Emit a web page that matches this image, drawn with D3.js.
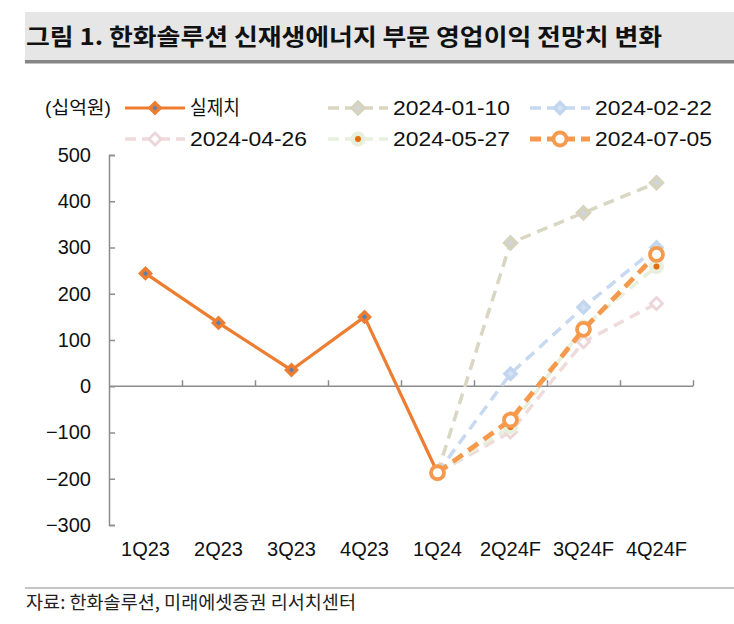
<!DOCTYPE html>
<html><head><meta charset="utf-8">
<script src="https://cdn.jsdelivr.net/npm/d3@7"></script>
<style>body{margin:0;background:#fff}</style>
</head><body><svg id="c" width="734" height="624"></svg>
<script>
const categories = ["1Q23","2Q23","3Q23","4Q23","1Q24","2Q24F","3Q24F","4Q24F"];
const actual  = [244, 137, 35, 150, -187, null, null, null];
const f0110   = [null, null, null, null, -187, 310, 375, 440];
const f0222   = [null, null, null, null, -187, 27, 171, 300];
const f0426   = [null, null, null, null, -187, -99, 96, 179];
const f0527   = [null, null, null, null, -187, -88, 128, 259];
const f0705   = [null, null, null, null, -187, -73, 123, 285];
const seriesNames = ["실제치","2024-01-10","2024-02-22","2024-04-26","2024-05-27","2024-07-05"];
const yTicks = [-300,-200,-100,0,100,200,300,400,500];
const titleText = "그림 1. 한화솔루션 신재생에너지 부문 영업이익 전망치 변화";
const unitText = "(십억원)";
const sourceText = "자료: 한화솔루션, 미래에셋증권 리서치센터";

const FONT = "'Liberation Sans','Noto Sans CJK KR',sans-serif";
const svg = d3.select("#c");

// title band
svg.append("rect").attr("x",25).attr("y",12).attr("width",709).attr("height",49).attr("fill","#e6e6e6");
svg.append("rect").attr("x",25).attr("y",60).attr("width",709).attr("height",3.5).attr("fill","#858585");
svg.append("text").attr("x",26).attr("y",45).attr("font-family","'Noto Sans CJK KR',sans-serif")
  .attr("font-weight","bold").attr("font-size",23).attr("fill","#111").attr("textLength",636)
  .attr("lengthAdjust","spacingAndGlyphs").text(titleText);

const x = d3.scaleBand().domain(categories).range([109,693]);
const xi = d3.scaleLinear().domain([0,categories.length]).range([109,693]);
const y = d3.scaleLinear().domain([-300,500]).range([525,155]);

// y axis
const ya = svg.append("g").attr("transform","translate(109,0)")
  .call(d3.axisLeft(y).tickValues(yTicks).tickSize(-6).tickPadding(18)
    .tickFormat(d => d < 0 ? "\u2212" + Math.abs(d) : String(d)));
ya.selectAll("path").attr("stroke","#8c8c8c").attr("stroke-width",1.5);
ya.selectAll("line").attr("stroke","#8c8c8c").attr("stroke-width",1.5);
ya.selectAll("text").attr("font-family",FONT).attr("font-size",20).attr("fill","#111");

// x axis at zero
const xa = svg.append("g").attr("transform",`translate(0,${y(0)})`)
  .call(d3.axisBottom(xi).tickValues(d3.range(1,categories.length+1)).tickSize(-6).tickFormat(""));
xa.select("path").attr("stroke","#8c8c8c").attr("stroke-width",1.5).attr("d",`M109,0H693`);
xa.selectAll("line").attr("stroke","#8c8c8c").attr("stroke-width",1.5);

// category labels at bottom
const xl = svg.append("g").attr("transform","translate(0,525)")
  .call(d3.axisBottom(x).tickSize(0).tickPadding(17));
xl.select("path").remove();
xl.selectAll("text").attr("font-family",FONT).attr("font-size",20).attr("fill","#111");

// markers
function diamond(g, cx, cy, r, fill, stroke, sw){
  g.append("path").attr("d",`M${cx},${cy-r}L${cx+r},${cy}L${cx},${cy+r}L${cx-r},${cy}Z`)
    .attr("fill",fill).attr("stroke",stroke).attr("stroke-width",sw).attr("stroke-linejoin","miter");
}
const styles = [
  {data: actual, color:"#ed7d31", w:3.2, dash:null,
   mark:(g,cx,cy)=>diamond(g,cx,cy,5,"#5b7fae","#ed7d31",3.5)},
  {data: f0110, color:"#d9d6c2", w:3.5, dash:"11,7",
   mark:(g,cx,cy)=>diamond(g,cx,cy,5.5,"#cbd6e8","#d6d3be",4)},
  {data: f0222, color:"#c6d9f1", w:3.5, dash:"11,7",
   mark:(g,cx,cy)=>diamond(g,cx,cy,5.5,"#d4e2f5","#c3d6ef",3.5)},
  {data: f0426, color:"#efdadc", w:3.5, dash:"11,7",
   mark:(g,cx,cy)=>diamond(g,cx,cy,6,"#ffffff","#ecd5d8",2.8)},
  {data: f0527, color:"#e7efdd", w:3.5, dash:"11,7",
   mark:(g,cx,cy)=>{g.append("circle").attr("cx",cx).attr("cy",cy).attr("r",7.5).attr("fill","#e7efdd");
     g.append("circle").attr("cx",cx).attr("cy",cy).attr("r",3).attr("fill","#e46c0a");}},
  {data: f0705, color:"#f59a4c", w:4.8, dash:"12,7",
   mark:(g,cx,cy)=>g.append("circle").attr("cx",cx).attr("cy",cy).attr("r",6.5).attr("fill","#fff")
     .attr("stroke","#f59a4c").attr("stroke-width",3.8)}
];

const line = d3.line().defined(d => d.v != null).x(d => x(d.c) + x.bandwidth()/2).y(d => y(d.v));
styles.forEach(s => {
  const pts = categories.map((c,i) => ({c, v: s.data[i]}));
  svg.append("path").datum(pts).attr("d",line).attr("fill","none")
    .attr("stroke",s.color).attr("stroke-width",s.w).attr("stroke-dasharray",s.dash)
    .attr("stroke-linejoin","round");
  const g = svg.append("g");
  pts.filter(d => d.v != null).forEach(d => s.mark(g, x(d.c)+x.bandwidth()/2, y(d.v)));
});

// legend
svg.append("text").attr("x",45).attr("y",108).attr("dy","0.35em").attr("font-family",FONT)
  .attr("font-size",18).attr("fill","#111").attr("textLength",66).attr("lengthAdjust","spacingAndGlyphs").text(unitText);
const legPos = [[125,108],[328,108],[530,108],[125,139],[328,139],[530,139]];
styles.forEach((s,i) => {
  const [lx,ly] = legPos[i];
  const g = svg.append("g");
  g.append("line").attr("x1",lx).attr("x2",lx+60).attr("y1",ly).attr("y2",ly)
    .attr("stroke",s.color).attr("stroke-width",s.w).attr("stroke-dasharray",s.dash ? "11,6" : null);
  s.mark(g, lx+30, ly);
  const t = g.append("text").attr("x",lx+65).attr("y",ly).attr("dy","0.35em").attr("font-family",FONT)
    .attr("font-size",20).attr("fill","#111").text(seriesNames[i]);
  if (i === 0) t.attr("textLength",50).attr("lengthAdjust","spacingAndGlyphs");
  else t.attr("textLength",117).attr("lengthAdjust","spacingAndGlyphs");
});

// footer
svg.append("line").attr("x1",25).attr("x2",734).attr("y1",588).attr("y2",588).attr("stroke","#8c8c8c").attr("stroke-width",1.2);
svg.append("text").attr("x",26).attr("y",609).attr("font-family","'Noto Sans CJK KR',sans-serif")
  .attr("font-size",18).attr("fill","#222").attr("textLength",330).attr("lengthAdjust","spacingAndGlyphs").text(sourceText);
</script></body></html>
